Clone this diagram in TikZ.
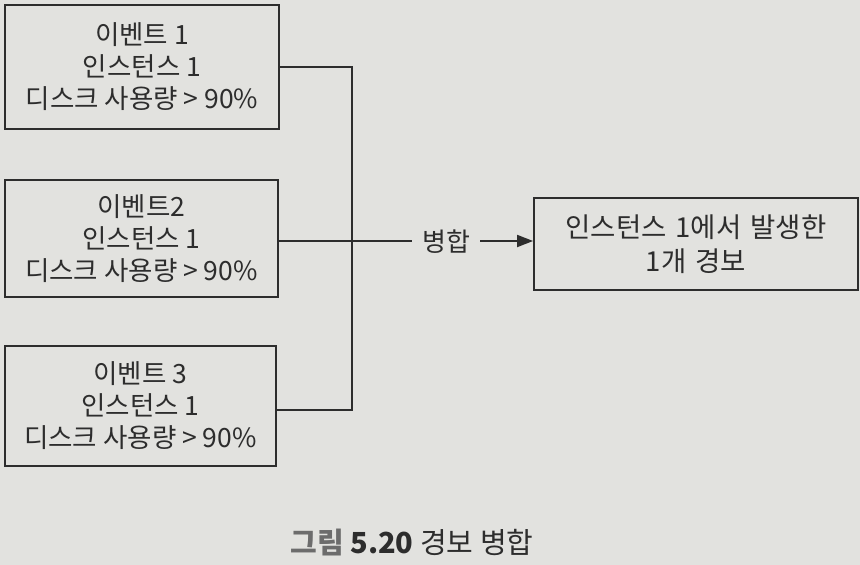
\documentclass[tikz,border=0pt]{standalone}
\usepackage{fontspec}
\setmainfont{Noto Sans CJK KR}
\usetikzlibrary{arrows.meta}
\definecolor{bg}{RGB}{226,226,223}
\definecolor{ink}{RGB}{45,45,45}
\begin{document}
\begin{tikzpicture}[x=1pt,y=-1pt,
  box/.style={draw=ink,line width=1.8pt,inner sep=0pt,align=center,text=ink,
    font=\fontsize{26.5}{32}\selectfont},
  conn/.style={draw=ink,line width=1.8pt}]
\fill[bg] (0,0) rectangle (860,565);
\useasboundingbox (0,0) rectangle (860,565);
\node[box,minimum width=274pt,minimum height=124pt] (e1) at (142,67) {이벤트 1\\인스턴스 1\\디스크 사용량 > 90\%};
\node[box,minimum width=273pt,minimum height=117pt] (e2) at (141.5,238.5) {이벤트2\\인스턴스 1\\디스크 사용량 > 90\%};
\node[box,minimum width=271pt,minimum height=120pt] (e3) at (140.5,406) {이벤트 3\\인스턴스 1\\디스크 사용량 > 90\%};
\node[box,minimum width=324pt,minimum height=92pt,font=\fontsize{27.5}{34}\selectfont] (r) at (696,244) {인스턴스\hspace{9pt}1에서\hspace{9pt}발생한\\1개\hspace{9pt}경보};
\node[text=ink,font=\fontsize{26}{30}\selectfont,inner sep=0pt] (m) at (446,242) {병합};
\coordinate (jt) at (352,67);
\coordinate (jm) at (352,241);
\coordinate (jb) at (352,410);
\draw[conn] (e1.east |- jt) -- (jt) -- (jb) -- (e3.east |- jb);
\draw[conn] (e2.east |- jm) -- ([xshift=-10pt]m.west |- jm);
\draw[conn,-{Triangle[length=16pt,width=12pt]}] ([xshift=10pt]m.east |- jm) -- (r.west |- jm);
\node[font=\fontsize{29}{32}\selectfont,text=ink,inner sep=0pt] (cap) at (412,543) {\textcolor{ink!70}{\textbf{그림}} \textbf{5.20} 경보 병합};
\end{tikzpicture}
\end{document}
